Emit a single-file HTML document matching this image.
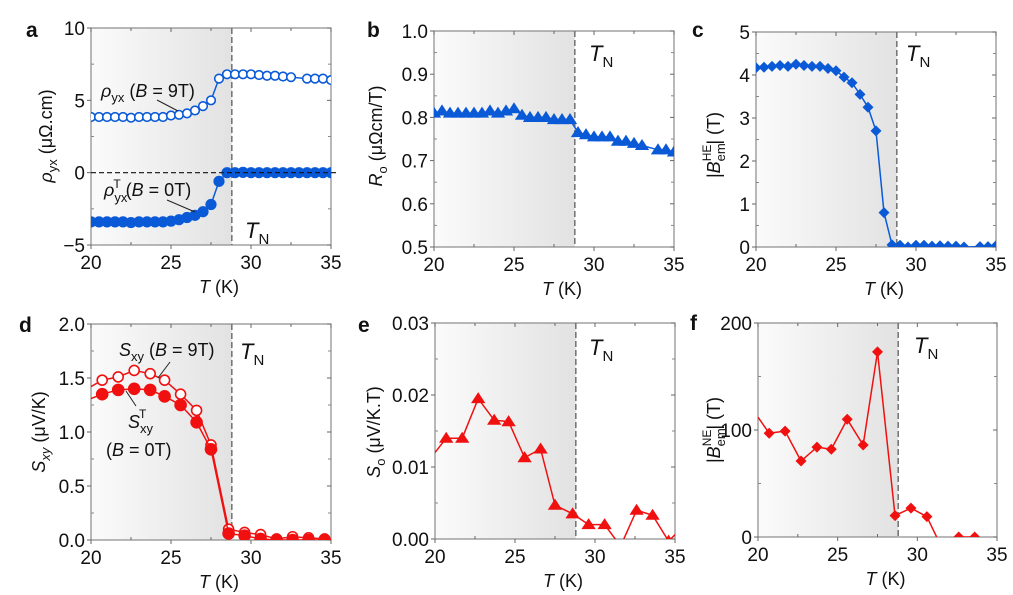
<!DOCTYPE html>
<html><head><meta charset="utf-8"><style>
html,body{margin:0;padding:0;background:#fff;}
svg{display:block;font-family:"Liberation Sans",sans-serif;}
</style></head><body>
<svg id="fig" width="1013" height="595" viewBox="0 0 1013 595" xmlns="http://www.w3.org/2000/svg">
<defs>
<linearGradient id="shade" x1="0" x2="1" y1="0" y2="0"><stop offset="0" stop-color="#fbfbfb"/><stop offset="1" stop-color="#e2e2e2"/></linearGradient>
</defs>
</svg>
<script>
// ---- data ----
const TN = 28.8;
const aT = [20,20.5,21,21.5,22,22.5,23,23.5,24,24.5,25,25.5,26,26.5,27,27.5,28,28.5,29,29.5,30,30.5,31,31.5,32,32.5,33.5,34,34.5,35];
const aOpen = [3.85,3.85,3.85,3.85,3.85,3.8,3.85,3.85,3.85,3.85,3.95,4.0,4.1,4.3,4.6,5.0,6.5,6.8,6.8,6.8,6.8,6.75,6.7,6.7,6.65,6.6,6.5,6.5,6.5,6.4];
const aT0 = [20,20.5,21,21.5,22,22.5,23,23.5,24,24.5,25,25.5,26,26.5,27,27.5,28,28.5,29,29.5,30,30.5,31,31.5,32,32.5,33,33.5,34,34.5,35];
const aFilled = [-3.4,-3.4,-3.4,-3.4,-3.4,-3.45,-3.4,-3.4,-3.4,-3.4,-3.35,-3.25,-3.1,-2.95,-2.7,-2.2,-0.6,0,0,0.02,0,0,0,0,0,0,0,0,0,0,0];
const bT = [20,20.5,21,21.5,22,22.5,23,23.5,24,24.5,25,25.5,26,26.5,27,27.5,28,28.5,29,29.5,30,30.5,31,31.5,32,32.5,33,34,34.5,35];
const bR = [0.81,0.815,0.81,0.81,0.81,0.81,0.81,0.815,0.81,0.815,0.82,0.805,0.80,0.80,0.80,0.795,0.795,0.795,0.765,0.76,0.755,0.755,0.755,0.745,0.745,0.74,0.735,0.725,0.725,0.72];
const cT = [20,20.5,21,21.5,22,22.5,23,23.5,24,24.5,25,25.5,26,26.5,27,27.5,28,28.5,29,29.5,30,30.5,31,31.5,32,32.5,33,34,34.5,35];
const cB = [4.17,4.18,4.2,4.22,4.2,4.25,4.22,4.2,4.2,4.15,4.1,3.95,3.82,3.55,3.25,2.7,0.8,0.05,0.04,0,0.04,0.04,0.02,0.03,0.02,0.02,0,0.01,0.01,0.03];
const dT = [20,20.7,21.7,22.7,23.7,24.6,25.6,26.6,27.5,28.6,29.6,30.6,31.6,32.6,33.6,34.6,35];
const d9T = [1.42,1.48,1.51,1.57,1.54,1.48,1.35,1.2,0.88,0.1,0.07,0.05,0.01,0.03,0.02,0.01,0.0];
const d0T = [1.31,1.35,1.39,1.40,1.39,1.33,1.25,1.09,0.84,0.06,0.04,0.01,0.0,0.0,0.0,0.0,0.0];
const eT = [20,20.7,21.7,22.7,23.7,24.6,25.6,26.6,27.5,28.6,29.6,30.6,31.6,32.6,33.6,34.6,35];
const eS = [0.012,0.014,0.014,0.0195,0.0165,0.0163,0.0113,0.0125,0.0047,0.0035,0.002,0.002,-0.001,0.004,0.0033,-0.0003,0.0006];
const fT = [20,20.7,21.7,22.7,23.7,24.6,25.6,26.6,27.5,28.6,29.6,30.6,31.6,32.6,33.6];
const fB = [112,97,99,71,84,82,110,86,173,20,27,19,-12,0,0];
const xTicks = [20,25,30,35];

const NS="http://www.w3.org/2000/svg";
const svg=document.getElementById('fig');
function el(tag,attrs,parent){const e=document.createElementNS(NS,tag);for(const k in attrs)e.setAttribute(k,attrs[k]);(parent||svg).appendChild(e);return e;}

function makePanel(id,L,R,T,B,ymin,ymax,yTicks,yFmt){
  const g=el('g',{});
  
  
  const sx=v=>L+(v-20)/15*(R-L);
  const sy=v=>B-(v-ymin)/(ymax-ymin)*(B-T);
  const cp=el('clipPath',{id:'clip'+id},g);
  el('rect',{x:L,y:T-8,width:R-L,height:B-T+8},cp);
  const sh=el('rect',{x:L,y:T,width:sx(TN)-L,height:B-T,fill:'url(#shade)'},g);
  
  
  const fr=el('rect',{x:L,y:T,width:R-L,height:B-T,fill:'none',stroke:'#8a8a8a','stroke-width':1.2},g);
  
  
  for(let v=20;v<=35;v+=2.5){
    const major=(v%5===0);
    const x=sx(v);
    el('line',{x1:x,x2:x,y1:B,y2:major?B+4:B-3,stroke:'#666','stroke-width':1},g);
    el('line',{x1:x,x2:x,y1:T,y2:T+(major?4:3),stroke:'#666','stroke-width':1},g);
  }
  xTicks.forEach(v=>{
    const t=el('text',{x:sx(v),y:B+24,'font-size':19,'text-anchor':'middle',fill:'#111'},g);
    t.textContent=v;
    
    
  });
  yTicks.forEach((v,i)=>{
    const y=sy(v);
    el('line',{x1:L-4,x2:L,y1:y,y2:y,stroke:'#666','stroke-width':1},g);
    el('line',{x1:R-4,x2:R,y1:y,y2:y,stroke:'#666','stroke-width':1},g);
    const t=el('text',{x:L-6,y:y+7,'font-size':19,'text-anchor':'end',fill:'#111'},g);
    t.textContent=yFmt(v);
    
    
    if(i<yTicks.length-1){const m=sy((v+yTicks[i+1])/2);
      el('line',{x1:L,x2:L+3,y1:m,y2:m,stroke:'#888','stroke-width':1},g);
      el('line',{x1:R-3,x2:R,y1:m,y2:m,stroke:'#888','stroke-width':1},g);}
  });
  const tn=el('line',{x1:sx(TN),x2:sx(TN),y1:T,y2:B,stroke:'#777','stroke-width':1.6,'stroke-dasharray':'6,3'},g);
  
  
  const xt=el('text',{x:(L+R)/2+8,y:B+48,'font-size':18,'text-anchor':'middle',fill:'#111'},g);
  xt.innerHTML='<tspan font-style="italic">T</tspan> (K)';
  
  
  const dg=el('g',{'clip-path':'url(#clip'+id+')'},g);
  return {g,dg,sx,sy};
}
function series(P,xs,ys,color,marker,size,filled,name,skipEdge){
  const sg=el('g',{},P.dg);
  
  
  const pts=xs.map((x,i)=>P.sx(x)+','+P.sy(ys[i])).join(' ');
  el('polyline',{points:pts,fill:'none',stroke:color,'stroke-width':1.5},sg);
  xs.forEach((x,i)=>{
    if(skipEdge && (x<=20 || x>=35)) return;
    const cx=P.sx(x),cy=P.sy(ys[i]);let m;
    if(marker==='circle') m=el('circle',{cx,cy,r:size,fill:filled?color:'#fff',stroke:color,'stroke-width':1.6},sg);
    else if(marker==='tri') m=el('polygon',{points:`${cx},${cy-size} ${cx-size*1.1},${cy+size*0.7} ${cx+size*1.1},${cy+size*0.7}`,fill:color},sg);
    else m=el('polygon',{points:`${cx},${cy-size} ${cx+size},${cy} ${cx},${cy+size} ${cx-size},${cy}`,fill:color},sg);
    
    
  });
}
function txt(x,y,html,size,extra,name){
  const t=el('text',Object.assign({x,y,'font-size':size,fill:'#111'},extra||{}));
  t.innerHTML=html;
  
  
  return t;
}
function ytitle(x,y,html,name){
  const t=el('text',{x:0,y:0,'font-size':18,'text-anchor':'middle',fill:'#111',transform:`translate(${x},${y}) rotate(-90)`});
  t.innerHTML=html;
  
  
}
function TNlabel(x,y){txt(x,y,'<tspan font-style="italic">T</tspan><tspan font-size="15" dy="6">N</tspan>',22,{},'tn-label');}
function lineSeg(x1,y1,x2,y2){const l=el('line',{x1,y1,x2,y2,stroke:'#222','stroke-width':1});}

const blue='#0a5ad8', red='#f01010';
const f0=v=>v.toFixed(0), f1=v=>v.toFixed(1), f2=v=>v.toFixed(2);

// a
let P=makePanel('a',91,331,28,245,-5,10,[-5,0,5,10],v=>v<0?'\u2212'+Math.abs(v):v);
const z=el('line',{x1:91,x2:339,y1:P.sy(0),y2:P.sy(0),stroke:'#111','stroke-width':1.2,'stroke-dasharray':'5,3'},P.g);

series(P,aT,aOpen,blue,'circle',4.3,false,'rho-yx-9T',false);
series(P,aT0,aFilled,blue,'circle',4.8,true,'rho-yx-T-0T',false);
txt(101,97,'<tspan font-style="italic">ρ</tspan><tspan font-size="13" dy="5">yx</tspan><tspan dy="-5"> (</tspan><tspan font-style="italic">B</tspan> = 9T)',18,{},'annotation-9T');
txt(104,196,'<tspan font-style="italic">ρ</tspan><tspan font-size="13" dy="6">yx</tspan><tspan font-size="12" dx="-14" dy="-14">T</tspan><tspan dy="8"> (</tspan><tspan font-style="italic">B</tspan> = 0T)',18,{},'annotation-0T');
lineSeg(157,100,178,111);lineSeg(167,200,195,212);
TNlabel(245,238);
txt(26,37,'a',21,{'font-weight':'bold'},'panel-label-a');
ytitle(52,136,'<tspan font-style="italic">ρ</tspan><tspan font-size="13" dy="5">yx</tspan><tspan dy="-5"> (μΩ.cm)</tspan>','y-axis-title');

// b
P=makePanel('b',434,674,31,247,0.5,1.0,[0.5,0.6,0.7,0.8,0.9,1.0],f1);
series(P,bT,bR,blue,'tri',6.5,true,'R0-series',false);
TNlabel(589,61);
txt(367,37,'b',21,{'font-weight':'bold'},'panel-label-b');
ytitle(382,136,'<tspan font-style="italic">R</tspan><tspan font-size="13" dy="5">o</tspan><tspan dy="-5"> (μΩcm/T)</tspan>','y-axis-title');

// c
P=makePanel('c',756,996,32,247,0,5,[0,1,2,3,4,5],f0);
series(P,cT,cB,blue,'diamond',5.5,true,'B-em-HE-series',false);
TNlabel(906,61);
txt(692,37,'c',21,{'font-weight':'bold'},'panel-label-c');
ytitle(720,145,'|<tspan font-style="italic">B</tspan><tspan font-size="13" dy="5">em</tspan><tspan font-size="12" dx="-18" dy="-14">HE</tspan><tspan dy="9">| (T)</tspan>','y-axis-title');

// d
P=makePanel('d',91,331,324,540,0,2.0,[0,0.5,1.0,1.5,2.0],f1);
series(P,dT,d9T,red,'circle',5,false,'S-xy-9T',true);
series(P,dT,d0T,red,'circle',5.5,true,'S-xy-T-0T',true);
txt(119,356,'<tspan font-style="italic">S</tspan><tspan font-size="13" dy="5">xy</tspan><tspan dy="-5"> (</tspan><tspan font-style="italic">B</tspan> = 9T)',18,{},'annotation-9T');
txt(128,428,'<tspan font-style="italic">S</tspan><tspan font-size="13" dy="5">xy</tspan><tspan font-size="12" dx="-14" dy="-15">T</tspan>',18,{},'annotation-0T');
txt(106,456,'(<tspan font-style="italic">B</tspan> = 0T)',18,{},'annotation-0T-field');
lineSeg(158,378,170,362);lineSeg(126,391,136,406);
TNlabel(240,359);
txt(19,332,'d',21,{'font-weight':'bold'},'panel-label-d');
ytitle(45,432,'<tspan font-style="italic">S</tspan><tspan font-size="13" dy="5" font-style="italic">xy</tspan><tspan dy="-5"> (μV/K)</tspan>','y-axis-title');

// e
P=makePanel('e',435,675,323,539,0,0.03,[0,0.01,0.02,0.03],f2);
series(P,eT,eS,red,'tri',6.5,true,'S0-series',true);
TNlabel(589,355);
txt(358,332,'e',21,{'font-weight':'bold'},'panel-label-e');
ytitle(380,432,'<tspan font-style="italic">S</tspan><tspan font-size="13" dy="5">o</tspan><tspan dy="-5"> (μV/K.T)</tspan>','y-axis-title');

// f
P=makePanel('f',758,997,323,537,0,200,[0,100,200],f0);
series(P,fT,fB,red,'diamond',5.5,true,'B-em-NE-series',true);
TNlabel(914,353);
txt(690,330,'f',21,{'font-weight':'bold'},'panel-label-f');
ytitle(720,430,'|<tspan font-style="italic">B</tspan><tspan font-size="13" dy="5">em</tspan><tspan font-size="12" dx="-18" dy="-14">NE</tspan><tspan dy="9">| (T)</tspan>','y-axis-title');
</script>
</body></html>
